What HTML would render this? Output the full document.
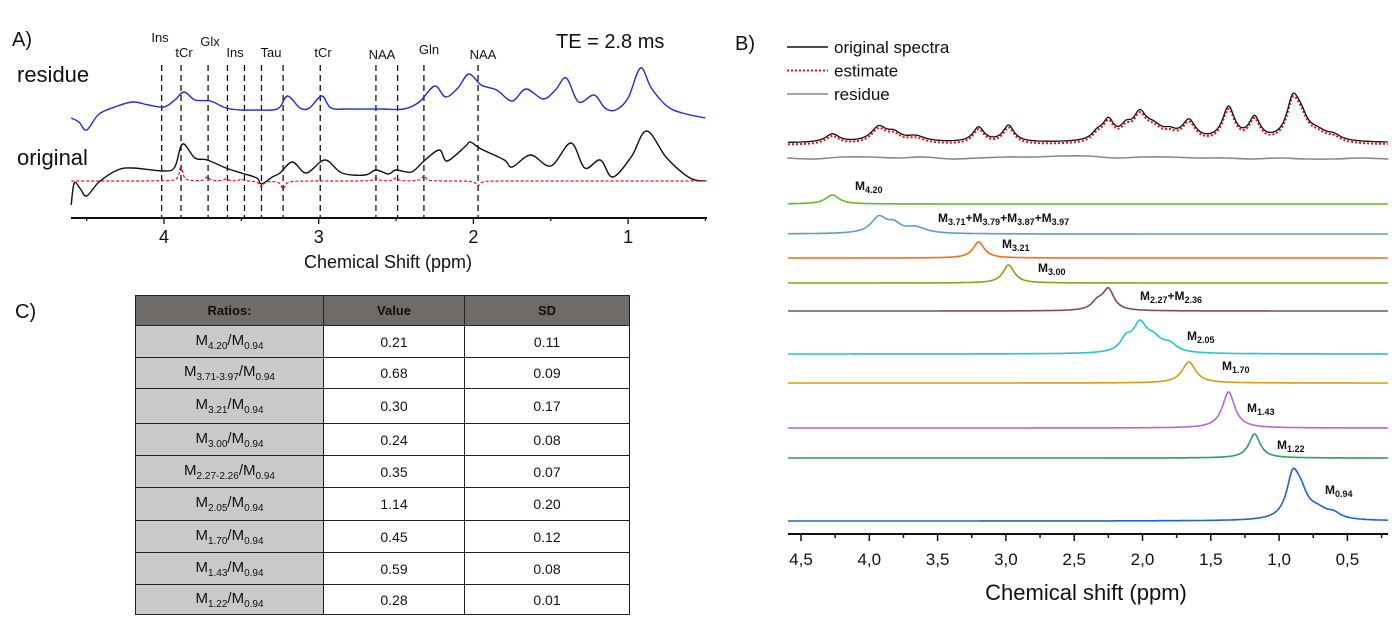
<!DOCTYPE html>
<html><head><meta charset="utf-8">
<style>
body{margin:0;background:#fff;width:1394px;height:633px;overflow:hidden;font-family:"Liberation Sans",sans-serif}
svg{position:absolute;left:0;top:0}
table{position:absolute;left:135px;top:295px;border-collapse:collapse;font-family:"Liberation Sans",sans-serif;font-size:14px;color:#111}
td,th{border:1.5px solid #222;text-align:center;padding:0}
th{background:#6f6b69;font-weight:bold;font-size:13px;height:29px}
td.r{background:#c9c9c9;font-size:15px}
sub{font-size:10px}
</style></head><body>
<svg id="fig" width="1394" height="633"></svg>
<table>
<tr style="height:30px"><th style="width:187px">Ratios:</th><th style="width:140px">Value</th><th style="width:164px">SD</th></tr>
<tr style="height:32px"><td class="r">M<sub>4.20</sub>/M<sub>0.94</sub></td><td>0.21</td><td>0.11</td></tr>
<tr style="height:31px"><td class="r">M<sub>3.71-3.97</sub>/M<sub>0.94</sub></td><td>0.68</td><td>0.09</td></tr>
<tr style="height:35px"><td class="r">M<sub>3.21</sub>/M<sub>0.94</sub></td><td>0.30</td><td>0.17</td></tr>
<tr style="height:32px"><td class="r">M<sub>3.00</sub>/M<sub>0.94</sub></td><td>0.24</td><td>0.08</td></tr>
<tr style="height:32px"><td class="r">M<sub>2.27-2.26</sub>/M<sub>0.94</sub></td><td>0.35</td><td>0.07</td></tr>
<tr style="height:33px"><td class="r">M<sub>2.05</sub>/M<sub>0.94</sub></td><td>1.14</td><td>0.20</td></tr>
<tr style="height:32px"><td class="r">M<sub>1.70</sub>/M<sub>0.94</sub></td><td>0.45</td><td>0.12</td></tr>
<tr style="height:32px"><td class="r">M<sub>1.43</sub>/M<sub>0.94</sub></td><td>0.59</td><td>0.08</td></tr>
<tr style="height:30px"><td class="r">M<sub>1.22</sub>/M<sub>0.94</sub></td><td>0.28</td><td>0.01</td></tr>
</table>
<script>
// ---- Panel A data (ppm, intensity above baseline) ----
const aResPpm=[4.6,4.55,4.5,4.42,4.3,4.2,4.1,4.0,3.93,3.87,3.8,3.7,3.6,3.5,3.4,3.3,3.25,3.2,3.12,3.06,2.98,2.92,2.8,2.6,2.45,2.35,2.25,2.18,2.1,2.03,1.95,1.85,1.75,1.66,1.55,1.47,1.4,1.32,1.22,1.15,1.08,1.0,0.92,0.85,0.75,0.65,0.5];
const aResVal=[-8,-12,-20,-4,4,8,5,3,10,18,10,9,2,0,0,0,3,14,2,2,14,2,1,1,1,8,24,13,22,36,25,20,9,21,11,20,32,8,15,2,0,12,42,22,4,-3,-8];
const aOrgPpm=[4.6,4.58,4.54,4.5,4.42,4.3,4.2,4.0,3.93,3.88,3.8,3.72,3.6,3.5,3.4,3.37,3.3,3.25,3.17,3.08,2.96,2.85,2.7,2.63,2.55,2.5,2.4,2.32,2.22,2.17,2.05,2.02,1.95,1.8,1.75,1.63,1.5,1.37,1.28,1.18,1.1,0.98,0.88,0.75,0.6,0.5];
const aOrgVal=[-24,-2,-8,-15,-1,11,13,10,14,37,23,21,13,8,3,-3,4,8,19,8,21,8,6,11,7,11,9,20,31,20,35,39,32,21,14,26,15,38,13,21,4,24,50,23,3,0];
const aFitPk=[[3.89,16,0.012],[3.72,4,0.015],[3.6,2,0.015],[3.5,2,0.015],[3.37,-6,0.015],[3.23,-8,0.015],[2.63,3,0.015],[2.5,3,0.015],[2.32,5,0.015],[1.97,-5,0.015]];
const aMarkPpm=[4.015,3.89,3.715,3.59,3.48,3.37,3.23,2.99,2.63,2.49,2.32,1.97];
const aTicks=[4,3,2,1];
// ---- Panel B data: components [center ppm, amplitude, half-width ppm] ----
const bNames=["M4.20","M3.9x","M3.21","M3.00","M2.27","M2.05","M1.70","M1.43","M1.22","M0.94"];
const bPeaks=[
 [[4.27,9,0.06]],
 [[3.93,16,0.07],[3.82,8,0.06],[3.66,6,0.09]],
 [[3.20,16,0.05]],
 [[2.98,18,0.05]],
 [[2.25,21,0.05],[2.33,8,0.05]],
 [[2.02,26,0.06],[2.12,12,0.05],[1.92,13,0.08],[1.8,7,0.06]],
 [[1.66,21,0.06]],
 [[1.37,36,0.055]],
 [[1.18,24,0.05]],
 [[0.90,40,0.055],[0.84,20,0.06],[0.72,9,0.09],[0.6,5,0.06]]];
const bBase=[204,234,258,283,311,354,383,428,458,521];
const bColors=["#6cb52a","#5d9bd3","#ff6a15","#979a18","#7e4f4f","#22c8cc","#d29f12","#b467dc","#2d9e5c","#1f62d8"];
const bResPpm=[4.6,4.4,4.2,4.0,3.8,3.6,3.4,3.2,3.0,2.8,2.6,2.4,2.2,2.0,1.8,1.6,1.4,1.2,1.0,0.8,0.6,0.4,0.2];
const bResVal=[0,-1,1,1,0,1,-1,0,1,1,2,2,0,1,1,0,0,-1,0,-1,-1,0,-1];
const bTicks=[4.5,4.0,3.5,3.0,2.5,2.0,1.5,1.0,0.5];

const NS="http://www.w3.org/2000/svg";
const svg=document.getElementById('fig');
function el(tag,attrs,parent){const e=document.createElementNS(NS,tag);for(const k in attrs)e.setAttribute(k,attrs[k]);(parent||svg).appendChild(e);return e;}
function txt(x,y,s,size,attrs){const t=el('text',Object.assign({x:x,y:y,'font-size':size,'font-family':'Liberation Sans, sans-serif',fill:'#111'},attrs||{}));t.textContent=s;return t;}
function smooth(pts){let d='M'+pts[0][0].toFixed(1)+','+pts[0][1].toFixed(1);for(let i=0;i<pts.length-1;i++){const p0=pts[Math.max(0,i-1)],p1=pts[i],p2=pts[i+1],p3=pts[Math.min(pts.length-1,i+2)];const c1=[p1[0]+(p2[0]-p0[0])/6,p1[1]+(p2[1]-p0[1])/6],c2=[p2[0]-(p3[0]-p1[0])/6,p2[1]-(p3[1]-p1[1])/6];d+=' C'+c1[0].toFixed(1)+','+c1[1].toFixed(1)+' '+c2[0].toFixed(1)+','+c2[1].toFixed(1)+' '+p2[0].toFixed(1)+','+p2[1].toFixed(1);}return d;}
function lor(pk,x){let s=0;for(const p of pk)s+=p[1]/(1+Math.pow((x-p[0])/p[2],2));return s;}

// ===== Panel A =====
const ax=p=>164+(4-p)*154.7;
txt(12,46,'A)',20);
txt(556,48,'TE = 2.8 ms',20);
txt(17,82,'residue',22);
txt(17,165,'original',22);
aMarkPpm.forEach((p,i)=>{const l=el('line',{x1:ax(p),x2:ax(p),y1:65,y2:218,stroke:'#111','stroke-width':1.3,'stroke-dasharray':'6,4'});

});
const mk=[[160,42,'Ins'],[184,57,'tCr'],[210,46,'Glx'],[235,57,'Ins'],[271,57,'Tau'],[323,57,'tCr'],[382,59,'NAA'],[429,54,'Gln'],[483,59,'NAA']];
mk.forEach(m=>{const t=txt(m[0],m[1],m[2],13,{'text-anchor':'middle'});});
const aRes=aResPpm.map((p,i)=>[ax(p),110-aResVal[i]]);
const r=el('path',{d:smooth(aRes),fill:'none',stroke:'#1f2fd0','stroke-width':1.4});

const aOrg=aOrgPpm.map((p,i)=>[ax(p),181-aOrgVal[i]]);
const o=el('path',{d:smooth(aOrg),fill:'none',stroke:'#111','stroke-width':1.4});

let fp=[];for(let p=4.6;p>=0.49;p-=0.004)fp.push([ax(p),181-lor(aFitPk,p)]);
const f=el('path',{d:'M'+fp.map(q=>q[0].toFixed(1)+','+q[1].toFixed(1)).join(' L'),fill:'none',stroke:'#ee1111','stroke-width':1.2,'stroke-dasharray':'3,2'});

el('line',{x1:71,x2:707,y1:218,y2:218,stroke:'#111','stroke-width':2});
for(let p=4.5;p>=0.5;p-=0.5){const big=Math.abs(p-Math.round(p))<0.01;el('line',{x1:ax(p),x2:ax(p),y1:218,y2:big?224:221,stroke:'#111','stroke-width':1.3});}
aTicks.forEach(t=>{const e=txt(ax(t),243,String(t),18,{'text-anchor':'middle'});});
txt(388,268,'Chemical Shift (ppm)',18,{'text-anchor':'middle'});

// ===== Panel C label =====
txt(15,318,'C)',20);

// ===== Panel B =====
const bx=p=>801+(4.5-p)*136.6;
txt(735,50,'B)',20);
const leg=[['original spectra','#111',''],['estimate','#ee1111','2,2'],['residue','#888','']];
leg.forEach((l,i)=>{const y=47+i*23.5;const ln=el('line',{x1:787,x2:828,y1:y,y2:y,stroke:l[1],'stroke-width':l[2]?2:1.5,'stroke-dasharray':l[2]});

const t=txt(834,y+6,l[0],17);});
const L=788,R=1388;
const pL=4.5+(801-L)/136.6, pR=4.5-(R-801)/136.6;
let tot=[],est=[];for(let p=pL;p>=pR;p-=0.005){let s=0;bPeaks.forEach(pk=>s+=lor(pk,p));tot.push([bx(p),143-s*0.92]);est.push([bx(p),145-s*0.9]);}
const eP=el('path',{d:'M'+est.map(q=>q[0].toFixed(1)+','+q[1].toFixed(1)).join(' L'),fill:'none',stroke:'#ee1111','stroke-width':2,'stroke-dasharray':'2,2'});

const tP=el('path',{d:'M'+tot.map(q=>q[0].toFixed(1)+','+q[1].toFixed(1)).join(' L'),fill:'none',stroke:'#111','stroke-width':1.3});

const gP=el('path',{d:smooth(bResPpm.filter(p=>p>=pR-0.01).map((p,i)=>[bx(p),158-bResVal[i]])),fill:'none',stroke:'#888','stroke-width':1.6});

bPeaks.forEach((pk,i)=>{let pts=[];for(let p=pL;p>=pR;p-=0.004)pts.push([bx(p),bBase[i]-lor(pk,p)]);
const c=el('path',{d:'M'+pts.map(q=>q[0].toFixed(1)+','+q[1].toFixed(1)).join(' L'),fill:'none',stroke:bColors[i],'stroke-width':1.6});

});
const labs=[[855,190,'M','4.20'],[938,222,'M','3.71','+M','3.79','+M','3.87','+M','3.97'],[1002,248,'M','3.21'],[1038,272,'M','3.00'],[1140,300,'M','2.27','+M','2.36'],[1187,340,'M','2.05'],[1222,370,'M','1.70'],[1247,412,'M','1.43'],[1277,449,'M','1.22'],[1325,494,'M','0.94']];
labs.forEach(l=>{const t=el('text',{x:l[0],y:l[1],'font-size':12,'font-weight':'bold','font-family':'Liberation Sans, sans-serif',fill:'#111'});

for(let k=2;k<l.length;k+=2){const a=document.createElementNS(NS,'tspan');a.textContent=l[k];if(k>2)a.setAttribute('dy','-3');t.appendChild(a);const b=document.createElementNS(NS,'tspan');b.textContent=l[k+1];b.setAttribute('font-size','9');b.setAttribute('dy','3');t.appendChild(b);}});
el('line',{x1:L,x2:R,y1:534,y2:534,stroke:'#111','stroke-width':2});
for(let p=4.5;p>=pR;p-=0.25){const big=Math.abs(p*2-Math.round(p*2))<0.01;el('line',{x1:bx(p),x2:bx(p),y1:534,y2:big?541:538,stroke:'#111','stroke-width':1.5});}
bTicks.forEach(t=>{const e=txt(bx(t),565,t.toFixed(1).replace('.',','),17,{'text-anchor':'middle'});});
txt(1086,600,'Chemical shift (ppm)',22,{'text-anchor':'middle'});
</script>
</body></html>
